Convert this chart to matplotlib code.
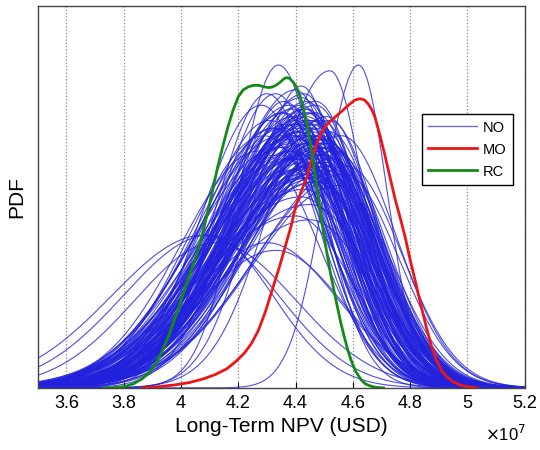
import numpy as np
import matplotlib
matplotlib.use('Agg')
import matplotlib.pyplot as plt
from matplotlib.ticker import FuncFormatter

# x in units of 1e7 USD, y as fraction of the plotted PDF range

# MO curve
mo_x = [3.865, 3.92, 3.98, 4.03, 4.08, 4.12, 4.16, 4.19, 4.22, 4.245, 4.27, 4.295,
        4.32, 4.345, 4.367, 4.385, 4.40, 4.42, 4.44, 4.457, 4.474, 4.49, 4.51, 4.535,
        4.558, 4.58, 4.606, 4.624, 4.64, 4.655, 4.667, 4.677, 4.695, 4.713, 4.73,
        4.749, 4.767, 4.785, 4.80, 4.82, 4.838, 4.856, 4.874, 4.892, 4.91, 4.928,
        4.95, 4.976, 5.0, 5.035]
mo_y = [0.0, 0.003, 0.008, 0.014, 0.024, 0.035, 0.05, 0.068, 0.09, 0.115, 0.15, 0.2,
        0.26, 0.32, 0.378, 0.425, 0.474, 0.515, 0.552, 0.6, 0.64, 0.668, 0.69, 0.707,
        0.722, 0.737, 0.753, 0.757, 0.754, 0.742, 0.727, 0.709, 0.66, 0.605, 0.55,
        0.49, 0.44, 0.387, 0.335, 0.273, 0.215, 0.16, 0.11, 0.072, 0.045, 0.029,
        0.016, 0.007, 0.003, 0.0]

# RC curve
rc_x = [3.734, 3.77, 3.806, 3.835, 3.865, 3.89, 3.913, 3.937, 3.96, 3.985, 4.008,
        4.032, 4.056, 4.074, 4.092, 4.11, 4.128, 4.146, 4.164, 4.182, 4.20, 4.217,
        4.235, 4.253, 4.271, 4.29, 4.307, 4.32, 4.331, 4.346, 4.361, 4.37, 4.379,
        4.392, 4.403, 4.415, 4.426, 4.438, 4.45, 4.462, 4.474, 4.486, 4.498, 4.51,
        4.522, 4.534, 4.546, 4.558, 4.57, 4.582, 4.594, 4.61, 4.63, 4.645, 4.665,
        4.685, 4.707]
rc_y = [0.0, 0.001, 0.004, 0.011, 0.024, 0.041, 0.064, 0.1, 0.142, 0.195, 0.247,
        0.3, 0.352, 0.4, 0.456, 0.515, 0.578, 0.632, 0.683, 0.727, 0.762, 0.78,
        0.788, 0.792, 0.792, 0.788, 0.786, 0.788, 0.792, 0.80, 0.81, 0.812, 0.81,
        0.8, 0.788, 0.765, 0.736, 0.695, 0.648, 0.59, 0.526, 0.465, 0.404, 0.35,
        0.30, 0.255, 0.212, 0.17, 0.134, 0.1, 0.072, 0.043, 0.02, 0.01, 0.004,
        0.001, 0.0]

# NO curves: peak position, peak height, left and right spread of each curve
no_peak_x = [4.34, 4.62, 4.52, 4.42, 4.30, 4.10, 4.08, 4.12, 4.40, 4.45, 4.30, 4.33,
             4.28, 4.31, 4.33, 4.29, 4.35, 4.32, 4.27, 4.36,
             4.38, 4.41, 4.44, 4.47, 4.50, 4.42, 4.45, 4.48, 4.40, 4.43,
             4.46, 4.49, 4.52, 4.36, 4.39, 4.44, 4.47, 4.51, 4.55, 4.41,
             4.43, 4.46, 4.50, 4.37, 4.40, 4.45, 4.48, 4.53, 4.42, 4.44,
             4.47, 4.49, 4.35, 4.39, 4.43, 4.46, 4.52, 4.57, 4.41, 4.45,
             4.48, 4.50, 4.38, 4.42, 4.44, 4.47, 4.54, 4.40, 4.43, 4.46,
             4.49, 4.36, 4.41, 4.45, 4.51, 4.58, 4.33, 4.39, 4.44, 4.48,
             4.42, 4.46, 4.50, 4.37, 4.43, 4.47, 4.53, 4.40, 4.45, 4.49,
             4.39, 4.44, 4.48, 4.41, 4.46, 4.52, 4.35, 4.43, 4.47, 4.50,
             4.45, 4.40, 4.49, 4.42, 4.38, 4.56, 4.44, 4.47, 4.51, 4.41,
             4.34, 4.46, 4.43, 4.48, 4.39, 4.53, 4.45, 4.42, 4.50, 4.37,
             4.47, 4.41, 4.44, 4.49, 4.36, 4.52, 4.43, 4.46, 4.40, 4.48]
no_peak_y = [0.845, 0.845, 0.83, 0.79, 0.77, 0.40, 0.40, 0.38, 0.45, 0.44, 0.38, 0.36,
             0.74, 0.70, 0.77, 0.66, 0.72, 0.68, 0.62, 0.75,
             0.62, 0.68, 0.71, 0.66, 0.60, 0.74, 0.58, 0.64, 0.70, 0.55,
             0.69, 0.63, 0.57, 0.72, 0.66, 0.61, 0.75, 0.59, 0.53, 0.67,
             0.73, 0.56, 0.65, 0.69, 0.62, 0.70, 0.54, 0.60, 0.76, 0.64,
             0.58, 0.68, 0.66, 0.71, 0.52, 0.63, 0.67, 0.56, 0.60, 0.72,
             0.65, 0.57, 0.74, 0.61, 0.69, 0.55, 0.62, 0.78, 0.59, 0.66,
             0.70, 0.63, 0.57, 0.64, 0.71, 0.58, 0.68, 0.60, 0.73, 0.62,
             0.50, 0.67, 0.61, 0.65, 0.77, 0.54, 0.63, 0.69, 0.48, 0.66,
             0.64, 0.72, 0.59, 0.67, 0.62, 0.70, 0.61, 0.56, 0.74, 0.65,
             0.68, 0.60, 0.63, 0.71, 0.57, 0.66, 0.75, 0.61, 0.58, 0.69,
             0.63, 0.70, 0.66, 0.59, 0.73, 0.62, 0.55, 0.67, 0.64, 0.60,
             0.72, 0.65, 0.58, 0.61, 0.68, 0.64, 0.70, 0.56, 0.66, 0.63]
no_left_sd = [0.14, 0.12, 0.20, 0.17, 0.18, 0.30, 0.32, 0.28, 0.35, 0.33, 0.25, 0.27,
              0.21, 0.24, 0.20, 0.26, 0.22, 0.25, 0.27, 0.19,
              0.28, 0.30, 0.26, 0.32, 0.29, 0.27, 0.33, 0.31, 0.25, 0.34,
              0.28, 0.30, 0.32, 0.26, 0.29, 0.31, 0.27, 0.33, 0.30, 0.28,
              0.26, 0.32, 0.29, 0.27, 0.31, 0.28, 0.34, 0.30, 0.25, 0.29,
              0.32, 0.27, 0.30, 0.26, 0.33, 0.29, 0.28, 0.31, 0.32, 0.27,
              0.29, 0.33, 0.26, 0.30, 0.28, 0.32, 0.29, 0.25, 0.31, 0.28,
              0.27, 0.30, 0.33, 0.29, 0.26, 0.31, 0.28, 0.32, 0.27, 0.30,
              0.34, 0.28, 0.31, 0.29, 0.25, 0.33, 0.30, 0.27, 0.35, 0.29,
              0.30, 0.27, 0.32, 0.28, 0.31, 0.26, 0.29, 0.33, 0.27, 0.30,
              0.28, 0.31, 0.29, 0.26, 0.32, 0.30, 0.25, 0.28, 0.31, 0.29,
              0.30, 0.27, 0.33, 0.29, 0.26, 0.31, 0.34, 0.28, 0.30, 0.32,
              0.26, 0.29, 0.31, 0.28, 0.30, 0.27, 0.25, 0.32, 0.29, 0.31]
no_right_sd = [0.15, 0.10, 0.12, 0.15, 0.18, 0.22, 0.26, 0.28, 0.20, 0.22, 0.25, 0.24,
               0.19, 0.21, 0.18, 0.22, 0.20, 0.19, 0.21, 0.18,
               0.18, 0.17, 0.19, 0.18, 0.20, 0.17, 0.19, 0.18, 0.16, 0.20,
               0.18, 0.19, 0.17, 0.18, 0.20, 0.19, 0.17, 0.18, 0.19, 0.17,
               0.18, 0.20, 0.19, 0.17, 0.18, 0.19, 0.21, 0.18, 0.17, 0.19,
               0.20, 0.18, 0.17, 0.19, 0.21, 0.18, 0.17, 0.19, 0.20, 0.18,
               0.19, 0.20, 0.17, 0.18, 0.19, 0.20, 0.18, 0.16, 0.19, 0.18,
               0.17, 0.19, 0.20, 0.18, 0.17, 0.19, 0.18, 0.20, 0.17, 0.19,
               0.21, 0.18, 0.19, 0.17, 0.16, 0.20, 0.18, 0.17, 0.22, 0.19,
               0.19, 0.17, 0.20, 0.18, 0.19, 0.17, 0.18, 0.21, 0.17, 0.19,
               0.18, 0.20, 0.19, 0.17, 0.18, 0.19, 0.16, 0.18, 0.20, 0.19,
               0.17, 0.19, 0.18, 0.20, 0.17, 0.18, 0.21, 0.19, 0.18, 0.20,
               0.17, 0.18, 0.20, 0.19, 0.18, 0.17, 0.16, 0.19, 0.18, 0.20]

x_ticks = [3.6, 3.8, 4.0, 4.2, 4.4, 4.6, 4.8, 5.0, 5.2]

plt.rcParams['font.family'] = ['Liberation Sans', 'DejaVu Sans']

fig = plt.figure(figsize=(5.4, 4.5), dpi=100)
ax = fig.add_axes([0.0698, 0.138, 0.902, 0.849])

xs = np.linspace(3.5, 5.2, 500)
for i in range(len(no_peak_x)):
    m = no_peak_x[i]
    sd = np.where(xs < m, no_left_sd[i], no_right_sd[i])
    ys = no_peak_y[i] * np.exp(-0.5 * ((xs - m) / sd) ** 2)
    line, = ax.plot(xs, ys, color='#2222dd', lw=0.8, alpha=0.8)
line.set_label('NO')

ax.plot(mo_x, mo_y, color='#ee1515', lw=2.0, label='MO')
ax.plot(rc_x, rc_y, color='#158a15', lw=2.0, label='RC')

ax.set_xlim(3.5, 5.2)
ax.set_ylim(0, 1)
ax.set_xticks(x_ticks)
ax.xaxis.set_major_formatter(FuncFormatter(lambda v, p: '%g' % v))
ax.set_yticks([])
ax.tick_params(axis='x', direction='in', length=4, labelsize=13, pad=5)
ax.grid(axis='x', linestyle=':', color='#888888', lw=0.9)
for s in ax.spines.values():
    s.set_color('#444444')
    s.set_linewidth(1.0)

ax.set_xlabel('Long-Term NPV (USD)', fontsize=15, labelpad=4)
ax.set_ylabel('PDF', fontsize=15, labelpad=8)
fig.text(0.975, 0.035, r'$\times$10$^7$', ha='right', va='center', fontsize=12)

leg = ax.legend(loc='upper right', bbox_to_anchor=(0.975, 0.717), borderaxespad=0,
                fontsize=10.5, fancybox=False, edgecolor='black', handlelength=3.3,
                borderpad=0.45, labelspacing=0.55, handletextpad=0.4,
                framealpha=1)
leg.get_frame().set_linewidth(1.0)
leg.legend_handles[0].set_color('#7070c0')
leg.legend_handles[0].set_alpha(1)
leg.legend_handles[0].set_linewidth(1.0)

fig.savefig('out.png', dpi=100)
